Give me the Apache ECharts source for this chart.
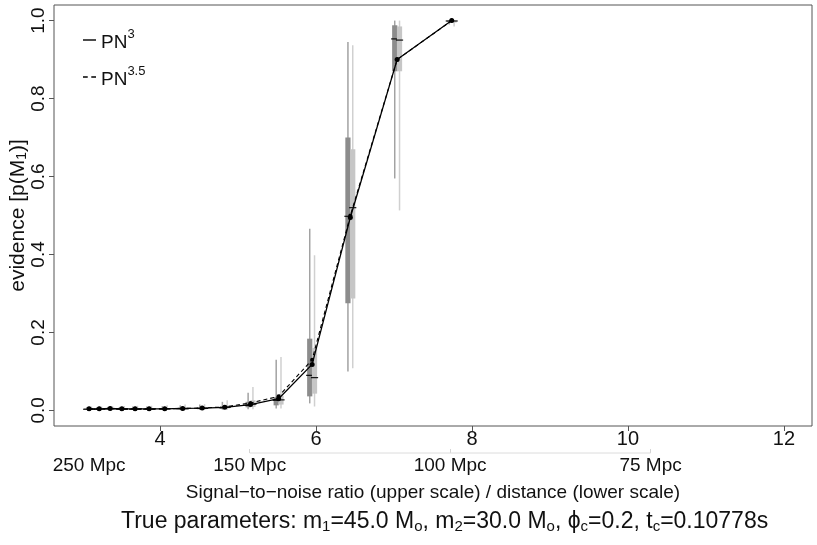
<!DOCTYPE html>
<html>
<head>
<meta charset="utf-8">
<script src="https://cdn.jsdelivr.net/npm/echarts@6/dist/echarts.min.js"></script>
<style>html,body{margin:0;padding:0;background:#fff;}#c{width:817px;height:545px;}</style>
</head>
<body>
<div id="c"></div>
<script>
// ---- data ----
const snr = [3.09, 3.22, 3.36, 3.51, 3.68, 3.86, 4.06, 4.29, 4.54, 4.83, 5.16, 5.52, 5.95, 6.44, 7.04, 7.74];
const pn3Mean  = [0.004, 0.004, 0.005, 0.004, 0.004, 0.004, 0.004, 0.005, 0.006, 0.008, 0.015, 0.030, 0.118, 0.495, 0.900, 1.000];
const pn35Mean = [0.004, 0.004, 0.005, 0.004, 0.004, 0.004, 0.004, 0.005, 0.006, 0.009, 0.019, 0.036, 0.130, 0.500, 0.900, 1.000];
// [min, q1, median, q3, max]
const pn3Box = [
  [0.001,0.002,0.003,0.005,0.008],[0.001,0.002,0.003,0.005,0.008],[0.001,0.002,0.004,0.006,0.009],
  [0.001,0.002,0.003,0.005,0.009],[0.001,0.002,0.003,0.005,0.010],[0.001,0.002,0.003,0.006,0.010],
  [0.001,0.002,0.004,0.006,0.011],[0.001,0.003,0.004,0.007,0.013],[0.001,0.003,0.005,0.008,0.015],
  [0.002,0.004,0.007,0.011,0.022],[0.003,0.008,0.013,0.022,0.045],[0.005,0.013,0.026,0.034,0.130],
  [0.018,0.036,0.090,0.184,0.466],[0.100,0.275,0.498,0.700,0.945],[0.595,0.870,0.953,0.988,1.000],
  [0.990,0.997,0.999,1.000,1.000]
];
const pn35Box = [
  [0.001,0.002,0.003,0.005,0.010],[0.001,0.002,0.003,0.005,0.010],[0.001,0.002,0.004,0.006,0.011],
  [0.001,0.002,0.003,0.005,0.011],[0.001,0.002,0.003,0.005,0.012],[0.001,0.002,0.003,0.006,0.012],
  [0.001,0.002,0.004,0.006,0.013],[0.001,0.003,0.004,0.007,0.015],[0.001,0.003,0.005,0.008,0.016],
  [0.002,0.005,0.008,0.013,0.026],[0.003,0.009,0.016,0.026,0.060],[0.005,0.015,0.027,0.038,0.137],
  [0.010,0.043,0.084,0.160,0.398],[0.108,0.287,0.520,0.670,0.937],[0.513,0.870,0.950,0.985,1.000],
  [0.985,0.995,0.999,1.000,1.000]
];
const xTicks = [4, 6, 8, 10, 12];
const yTicks = [0, 0.2, 0.4, 0.6, 0.8, 1.0];
const distLabels = ['250 Mpc', '150 Mpc', '100 Mpc', '75 Mpc'];
const distSNR = [3.09, 5.15, 7.72, 10.29];
const distTickSNR = [5.15, 7.72, 10.29];

const FONT = 'Liberation Sans, Arial, sans-serif';
const chart = echarts.init(document.getElementById('c'), null, {renderer: 'canvas'});

function boxRender(dx, boxColor, whiskerColor) {
  return function (params, api) {
    const x = api.value(0);
    const pMin = api.coord([x, api.value(1)]);
    const pQ1 = api.coord([x, api.value(2)]);
    const pMed = api.coord([x, api.value(3)]);
    const pQ3 = api.coord([x, api.value(4)]);
    const pMax = api.coord([x, api.value(5)]);
    const cx = pMin[0] + dx;
    return {
      type: 'group',
      children: [
        {type: 'line', shape: {x1: cx, y1: pMin[1], x2: cx, y2: pMax[1]}, style: {stroke: whiskerColor, lineWidth: 1.5}},
        {type: 'rect', shape: {x: cx - 2.6, y: pQ3[1], width: 5.2, height: Math.max(pQ1[1] - pQ3[1], 0.8)}, style: {fill: boxColor}},
        {type: 'line', shape: {x1: cx - 3.6, y1: pMed[1], x2: cx + 3.6, y2: pMed[1]}, style: {stroke: '#000', lineWidth: 1.1}}
      ]
    };
  };
}

const legendRich = {
  n: {fontSize: 19, fontFamily: FONT, color: '#111', lineHeight: 24, verticalAlign: 'bottom'},
  sup: {fontSize: 13, fontFamily: FONT, color: '#111', verticalAlign: 'top', lineHeight: 24, padding: [0, 0, 7, 0]}
};

const option = {
  backgroundColor: '#fff',
  animation: false,
  textStyle: {fontFamily: FONT},
  title: {
    text: 'True parameters: m{s|1}=45.0 M{s|o}, m{s|2}=30.0 M{s|o}, \u03d5{s|c}=0.2, t{s|c}=0.10778s',
    left: 116, top: 505,
    textStyle: {
      fontSize: 23, fontWeight: 'normal', color: '#111', fontFamily: FONT,
      rich: {s: {fontSize: 15, fontFamily: FONT, color: '#111', padding: [9, 0, 0, 0], verticalAlign: 'bottom'}}
    }
  },
  legend: {
    orient: 'vertical', left: 78, top: 23, itemGap: 13,
    itemWidth: 13, itemHeight: 12,
    data: [
      {name: 'PN3', icon: 'path://M0,0H12V1.3H0Z'},
      {name: 'PN3.5', icon: 'path://M0,0H4V1.1H0Z M7,0H11V1.1H7Z'}
    ],
    formatter: function (name) {
      return name === 'PN3' ? '{n|PN}{sup|3}' : '{n|PN}{sup|3.5}';
    },
    textStyle: {rich: legendRich},
    itemStyle: {color: '#000'}
  },
  grid: {left: 54, right: 5, top: 5, bottom: 119, outerBoundsMode: 'none', containLabel: false,
    show: true, borderColor: '#555', borderWidth: 1, backgroundColor: 'transparent'},
  xAxis: [
    {
      type: 'value', min: 2.64, max: 12.36,
      axisLine: {show: false, onZero: false},
      splitLine: {show: false},
      axisTick: {show: true, customValues: xTicks, length: 5, lineStyle: {color: '#555'}},
      axisLabel: {customValues: xTicks, fontSize: 20, color: '#111', margin: 3, fontFamily: FONT}
    },
    {
      type: 'value', min: 2.64, max: 12.36, position: 'bottom', offset: 27,
      axisLine: {show: false, onZero: false},
      splitLine: {show: false},
      axisTick: {show: true, inside: true, customValues: distTickSNR, length: 4, lineStyle: {color: '#d4d4d4'}},
      axisLabel: {
        customValues: distSNR, fontSize: 19, color: '#111', margin: 3, fontFamily: FONT,
        formatter: function (v) {
          let best = 0;
          for (let i = 1; i < distSNR.length; i++) if (Math.abs(distSNR[i] - v) < Math.abs(distSNR[best] - v)) best = i;
          return distLabels[best];
        }
      },
      name: 'Signal\u2212to\u2212noise ratio (upper scale) / distance (lower scale)',
      nameLocation: 'middle', nameGap: 30, nameMoveOverlap: false,
      nameTextStyle: {fontSize: 19, color: '#111', fontFamily: FONT}
    }
  ],
  yAxis: {
    type: 'value', min: -0.04, max: 1.04,
    axisLine: {show: false, onZero: false},
    splitLine: {show: false},
    axisTick: {show: true, customValues: yTicks, length: 5, lineStyle: {color: '#555'}},
    axisLabel: {customValues: yTicks, rotate: 90, fontSize: 19, color: '#111', margin: 6, fontFamily: FONT,
      formatter: function (v) { return v.toFixed(1); }},
    name: 'evidence [p(M{s|1})]',
    nameLocation: 'middle', nameGap: 25, nameRotate: 90, nameMoveOverlap: false,
    nameTextStyle: {fontSize: 21, color: '#111', fontFamily: FONT,
      rich: {s: {fontSize: 14, fontFamily: FONT, color: '#111', padding: [8, 0, 0, 0]}}}
  },
  series: [
    {
      type: 'custom', name: 'box3', z: 1, silent: true,
      renderItem: boxRender(-2.4, '#8c8c8c', '#a2a2a2'),
      encode: {x: 0, y: [1, 2, 3, 4, 5]},
      data: snr.map((x, i) => [x].concat(pn3Box[i]))
    },
    {
      type: 'custom', name: 'box35', z: 1, silent: true,
      renderItem: boxRender(2.4, '#c6c6c6', '#d0d0d0'),
      encode: {x: 0, y: [1, 2, 3, 4, 5]},
      data: snr.map((x, i) => [x].concat(pn35Box[i]))
    },
    {
      type: 'custom', name: 'distline', z: 1, silent: true, clip: false,
      renderItem: function (params, api) {
        const a = api.coord([distTickSNR[0], -0.04]);
        const b = api.coord([distTickSNR[distTickSNR.length - 1], -0.04]);
        return {type: 'line', shape: {x1: a[0], y1: a[1] + 27, x2: b[0], y2: b[1] + 27}, style: {stroke: '#dcdcdc', lineWidth: 1}};
      },
      data: [[distTickSNR[0], 0]]
    },
    {
      type: 'line', name: 'PN3.5', z: 3,
      data: snr.map((x, i) => [x, pn35Mean[i]]),
      symbol: 'circle', symbolSize: 4,
      lineStyle: {color: '#000', width: 1.1, type: [4, 3]},
      itemStyle: {color: '#000'}
    },
    {
      type: 'line', name: 'PN3', z: 4,
      data: snr.map((x, i) => [x, pn3Mean[i]]),
      symbol: 'circle', symbolSize: 5,
      lineStyle: {color: '#000', width: 1.3},
      itemStyle: {color: '#000'}
    }
  ]
};
chart.setOption(option);
</script>
</body>
</html>
